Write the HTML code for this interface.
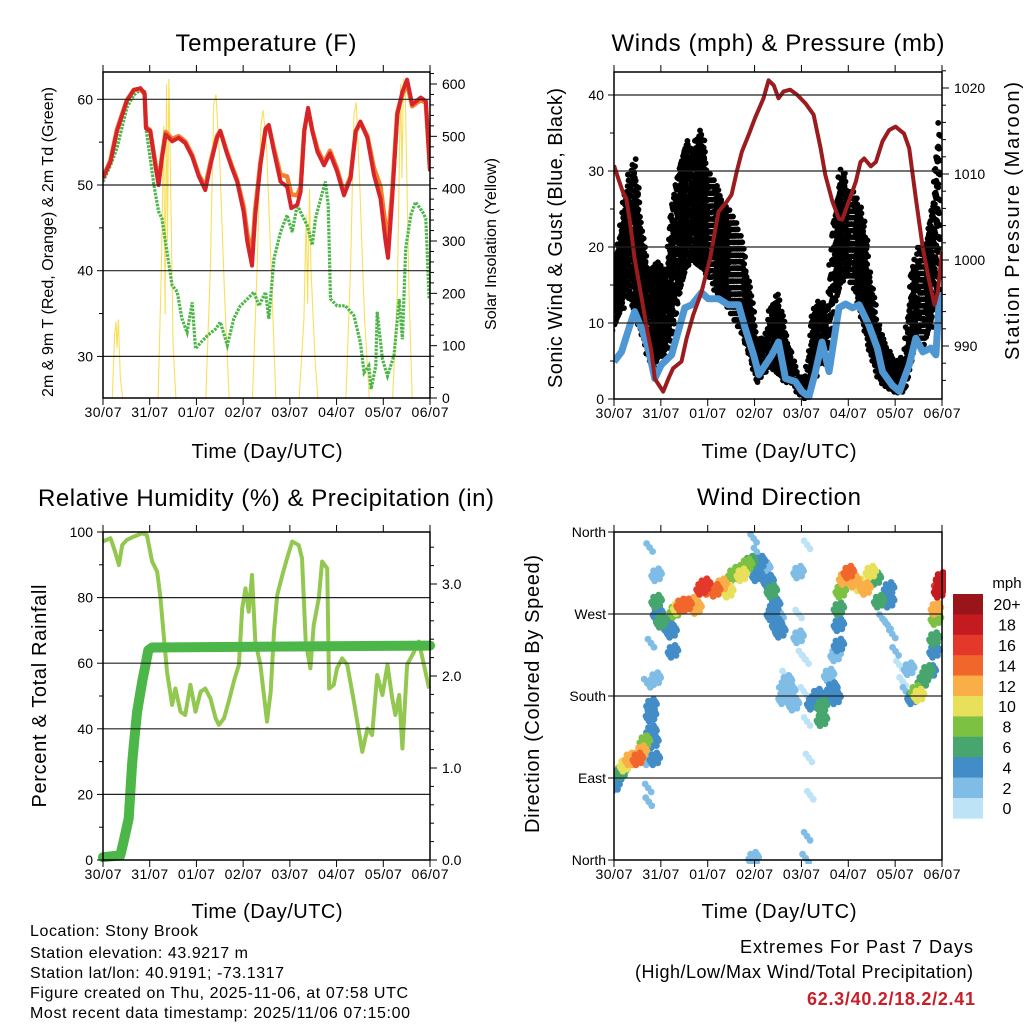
<!DOCTYPE html>
<html><head><meta charset="utf-8"><style>
html,body{margin:0;padding:0;background:#fff;}
svg{display:block;font-family:"Liberation Sans",Arial,sans-serif;}
</style></head><body>
<svg id="chart" width="1024" height="1024" viewBox="0 0 1024 1024">
<rect x="0" y="0" width="1024" height="1024" fill="#fff"/>
<g id="layer-data"></g>
<g id="layer-axes"></g>
<g id="layer-text">
<text x="266" y="51" font-size="24" text-anchor="middle" textLength="181">Temperature (F)</text>
<text x="778" y="51" font-size="24" text-anchor="middle" textLength="333">Winds (mph) &amp; Pressure (mb)</text>
<text x="266" y="506" font-size="24" text-anchor="middle" textLength="456">Relative Humidity (%) &amp; Precipitation (in)</text>
<text x="779" y="505" font-size="24" text-anchor="middle" textLength="164">Wind Direction</text>
<text x="267" y="458" font-size="20" text-anchor="middle" textLength="151">Time (Day/UTC)</text>
<text x="779" y="458" font-size="20" text-anchor="middle" textLength="155">Time (Day/UTC)</text>
<text x="267" y="918" font-size="20" text-anchor="middle" textLength="151">Time (Day/UTC)</text>
<text x="779" y="918" font-size="20" text-anchor="middle" textLength="155">Time (Day/UTC)</text>
<text transform="translate(53,242) rotate(-90)" font-size="16" text-anchor="middle" textLength="310">2m &amp; 9m T (Red, Orange) &amp; 2m Td (Green)</text>
<text transform="translate(496,244) rotate(-90)" font-size="16" text-anchor="middle" textLength="172">Solar Insolation (Yellow)</text>
<text transform="translate(562,238) rotate(-90)" font-size="20" text-anchor="middle" textLength="300">Sonic Wind &amp; Gust (Blue, Black)</text>
<text transform="translate(1019,221) rotate(-90)" font-size="20" text-anchor="middle" textLength="278">Station Pressure (Maroon)</text>
<text transform="translate(46,696) rotate(-90)" font-size="20" text-anchor="middle" textLength="223">Percent &amp; Total Rainfall</text>
<text transform="translate(539,694) rotate(-90)" font-size="20" text-anchor="middle" textLength="278">Direction (Colored By Speed)</text>
<text x="1007" y="588" font-size="15" text-anchor="middle">mph</text>
<text x="30" y="936" font-size="16" textLength="168">Location: Stony Brook</text>
<text x="30" y="958" font-size="16" textLength="218">Station elevation: 43.9217 m</text>
<text x="30" y="978" font-size="16" textLength="254">Station lat/lon: 40.9191; -73.1317</text>
<text x="30" y="998" font-size="16" textLength="378">Figure created on Thu, 2025-11-06, at 07:58 UTC</text>
<text x="30" y="1018" font-size="16" textLength="380">Most recent data timestamp: 2025/11/06 07:15:00</text>
<text x="973" y="953" font-size="18" text-anchor="end" textLength="233">Extremes For Past 7 Days</text>
<text x="973" y="978" font-size="18" text-anchor="end" textLength="338">(High/Low/Max Wind/Total Precipitation)</text>
<text x="975" y="1005" font-size="18" font-weight="bold" fill="#c8202a" text-anchor="end" textLength="168">62.3/40.2/18.2/2.41</text>
</g>
</svg>
<script>
// ---------- data ----------
const dayLabels = ["30/07","31/07","01/07","02/07","03/07","04/07","05/07","06/07"];
const tempTicks = [30,40,50,60];
const solarTicks = [0,100,200,300,400,500,600];
const windTicks = [0,10,20,30,40];
const pressTicks = [990,1000,1010,1020];
const rhTicks = [0,20,40,60,80,100];
const rainTicks = [0,1,2,3];
const rainTickLabels = ["0.0","1.0","2.0","3.0"];
const dirTicks = [0,90,180,270,360];
const dirTickLabels = ["North","East","South","West","North"];
const speedBinLabels = ["0","2","4","6","8","10","12","14","16","18","20+"];
const speedColors = ["#bde3f7","#7fbde6","#428dc8","#47a66e","#7cc142","#e8e05a","#f9ae48","#f1662b","#e4382b","#c41b21","#9a151a"];

const tempDays = [0,.16,.30,.51,.66,.80,.89,.92,1.01,1.12,1.19,1.26,1.34,1.48,1.62,1.76,1.91,2.05,2.19,2.30,2.44,2.51,2.64,2.76,2.87,3.01,3.09,3.19,3.26,3.37,3.48,3.55,3.66,3.80,3.94,4.03,4.16,4.23,4.31,4.39,4.48,4.59,4.73,4.86,5.01,5.16,5.30,5.41,5.51,5.66,5.80,5.94,6.05,6.10,6.19,6.30,6.41,6.51,6.62,6.80,6.91,7.0];
const temp2m = [50.8,52.7,56.3,59.8,61.1,61.3,60.7,56.6,56.3,52.3,50.0,53.1,55.9,55.1,55.5,54.9,53.3,51.0,49.4,52.3,55.5,56.3,53.9,52.0,50.4,46.9,43.4,40.6,46.5,52.3,56.6,57.0,53.9,50.4,49.8,47.3,47.7,49.2,56.3,59.0,56.3,53.9,52.3,53.7,51.6,48.8,50.8,56.3,57.4,55.5,51.2,48.4,43.4,41.5,48.4,58.2,60.9,62.3,59.4,60.2,59.8,51.6];
const temp9m = [50.9,52.9,56.5,59.9,61.1,61.2,60.6,56.8,56.4,52.6,50.3,53.3,56.2,55.4,55.7,55.1,53.5,51.2,49.8,52.6,55.7,56.3,54.1,52.2,50.6,47.5,44.3,42.0,47.2,52.6,56.5,56.9,54.2,51.2,51.0,48.9,48.8,49.8,56.4,58.8,56.4,54.2,52.6,54.0,51.9,49.1,51.0,56.2,57.3,55.7,52.0,49.8,45.2,43.5,49.2,58.5,60.6,61.8,59.2,59.9,59.6,51.9];
const dewDays = [0,.16,.30,.51,.66,.80,.89,.92,1.01,1.09,1.19,1.26,1.37,1.48,1.59,1.69,1.80,1.91,1.98,2.09,2.23,2.41,2.51,2.66,2.80,2.94,3.09,3.23,3.34,3.48,3.55,3.66,3.80,3.94,4.05,4.16,4.26,4.37,4.48,4.55,4.66,4.76,4.82,4.87,5.01,5.19,5.37,5.51,5.59,5.69,5.74,5.84,5.87,5.98,6.09,6.23,6.34,6.41,6.48,6.59,6.69,6.84,6.91,6.98];
const dewVals = [50.4,52.3,54.3,59.0,60.5,61.1,60.9,56.6,53.1,50.0,46.9,46.1,42.2,38.3,37.5,34.4,32.8,36.3,30.9,31.6,32.4,33.2,34.0,31.3,34.4,35.9,36.7,37.5,35.9,37.5,34.4,41.4,44.5,46.5,44.5,47.7,46.5,45.3,43.0,46.1,48.4,50.4,47.7,36.7,35.9,35.9,34.8,31.6,28.1,28.9,26.2,28.9,35.2,29.7,27.7,30.1,36.7,32.0,42.6,46.5,48.0,46.9,46.1,36.7];
const solarDays = [0,.2,.25,.28,.3,.33,.37,.42,1.18,1.25,1.3,1.33,1.36,1.38,1.41,1.45,1.5,1.56,2.2,2.3,2.37,2.42,2.5,2.6,2.7,3.2,3.3,3.38,3.43,3.5,3.6,3.7,4.2,4.3,4.35,4.38,4.42,4.45,4.5,4.55,4.6,5.2,5.3,5.37,5.42,5.5,5.6,5.7,6.2,6.3,6.37,6.4,6.43,6.47,6.55,6.62,7.0];
const solarVals = [0,0,125,145,95,150,40,0,0,250,520,160,600,300,610,400,100,0,0,250,560,580,450,200,0,0,250,520,550,480,250,0,0,150,350,180,400,250,150,60,0,0,250,540,565,400,150,0,0,200,600,420,610,590,200,0,0];

const pressDays = [0,.09,.19,.26,.34,.44,.59,.69,.80,.87,1.05,1.16,1.26,1.44,1.55,1.69,1.87,2.05,2.23,2.41,2.51,2.62,2.73,2.87,3.01,3.19,3.30,3.41,3.51,3.62,3.76,3.91,4.09,4.26,4.41,4.51,4.66,4.80,4.87,5.01,5.16,5.26,5.34,5.48,5.59,5.73,5.87,6.01,6.19,6.30,6.44,6.59,6.73,6.84,6.91,7.0];
const pressVals = [1011.0,1009.5,1007.9,1007.2,1004.5,1000.2,995.6,992.4,989.3,986.2,984.7,986.2,987.4,988.2,990.9,993.6,996.3,1000.2,1005.6,1006.8,1007.6,1010.3,1012.6,1014.5,1016.5,1018.8,1020.9,1020.3,1018.8,1019.6,1019.8,1019.2,1018.2,1016.9,1013.0,1009.9,1006.8,1004.8,1004.7,1006.8,1009.1,1011.4,1011.8,1010.9,1011.4,1013.8,1015.1,1015.5,1014.7,1013.0,1007.2,1001.4,997.5,994.8,996.3,1001.0];
const windDays = [0,.16,.34,.44,.59,.73,.87,1.01,1.23,1.37,1.51,1.66,1.87,2.01,2.23,2.44,2.66,2.80,2.98,3.09,3.37,3.51,3.66,3.87,4.01,4.16,4.30,4.44,4.59,4.80,4.94,5.09,5.23,5.44,5.62,5.73,5.94,6.09,6.30,6.44,6.59,6.76,6.87,6.94,7.0];
const windVals = [4.9,6.2,9.7,11.5,9.3,6.7,2.7,4.5,5.8,8.9,12.0,12.4,14.0,13.2,13.2,12.4,12.4,9.3,5.8,3.2,5.8,7.5,2.7,2.3,1.0,0.3,3.6,7.5,3.6,12.0,12.5,12.0,12.4,9.7,6.7,3.6,1.8,1.0,4.5,8.0,6.2,6.7,5.8,13.0,14.0];
const gustDays = [0,.15,.25,.45,.6,.75,.9,1.0,1.1,1.25,1.4,1.55,1.7,1.85,2.0,2.15,2.3,2.45,2.6,2.75,2.9,3.05,3.2,3.35,3.5,3.65,3.8,3.95,4.1,4.25,4.4,4.55,4.7,4.85,5.0,5.15,5.3,5.45,5.6,5.75,5.9,6.05,6.2,6.35,6.5,6.65,6.8,6.95];
const gustLo = [9,11,14,11,8,5,4,6,5,9,14,17,18,17,16,14,13,12,10,8,5,2,3,4,3,2,2,0.5,0,2,5,4,12,15,16,14,10,6,3,2,1,0.5,1,5,9,7,10,15];
const gustHi = [18,23,28,32,22,17,18,18,16,27,31,34,33,36,30,29,26,25,24,20,15,8,8,12,14,9,6,3,3,12,13,12,24,31,28,27,25,17,11,8,6,5,6,17,20,20,26,38];

const rhDays = [0,.16,.26,.34,.41,.51,.66,.84,.94,1.05,1.16,1.23,1.30,1.37,1.48,1.55,1.66,1.76,1.87,1.98,2.09,2.19,2.30,2.41,2.48,2.59,2.69,2.80,2.91,2.98,3.05,3.12,3.19,3.26,3.37,3.51,3.59,3.66,3.73,3.84,3.94,4.05,4.19,4.26,4.34,4.44,4.51,4.62,4.69,4.80,4.84,4.94,5.01,5.12,5.23,5.37,5.55,5.66,5.76,5.87,5.98,6.09,6.19,6.26,6.34,6.41,6.51,6.66,6.76,6.87,6.98];
const rhVals = [97.1,98.1,94.0,89.9,96.0,97.6,98.6,99.6,99.1,91.0,87.9,79.8,68.6,57.4,47.3,52.3,45.2,44.2,53.4,45.2,51.3,52.3,49.3,43.2,41.2,43.2,48.3,54.4,59.5,76.7,82.8,75.7,86.9,66.6,59.5,42.2,51.3,69.6,80.8,86.9,92.0,97.1,96.0,92.0,66.6,58.4,71.6,79.8,91.0,88.9,52.3,53.4,58.4,61.5,59.5,48.3,33.0,40.1,38.1,56.4,50.3,59.5,49.3,44.2,50.3,34.0,59.5,63.5,66.6,59.5,52.3];
const rainDays = [0,.37,.44,.55,.62,.66,.73,.84,.91,.97,1.05,7.0];
const rainVals = [0.03,0.05,0.2,0.45,1.03,1.25,1.61,1.94,2.12,2.28,2.31,2.33];

const dirDays = [.01,.09,.16,.23,.34,.44,.51,.59,.66,.73,.73,.74,.79,.80,.84,.87,.80,.71,.76,.89,.91,.91,.94,1.01,1.12,1.23,1.26,.79,1.30,1.37,1.44,1.55,1.66,1.76,1.87,1.94,2.01,2.16,2.30,2.44,2.55,2.66,2.73,2.84,2.91,2.98,3.05,3.12,3.23,3.30,3.37,3.44,3.51,3.55,2.98,3.05,3.37,3.48,3.66,3.59,3.73,3.87,3.94,3.94,3.94,4.01,4.05,4.09,4.12,4.12,4.16,4.19,4.12,4.09,4.23,4.34,4.44,4.44,4.51,4.59,4.66,4.73,4.73,4.80,4.80,4.84,4.80,4.91,5.01,5.12,5.23,5.37,5.48,5.59,5.66,5.73,5.87,5.87,5.84,5.94,6.01,6.09,6.16,6.23,6.30,6.37,6.44,6.51,6.59,6.69,6.76,6.84,6.84,6.87,6.87,6.94,6.98,6.94,3.62,3.76,3.84,3.69];
const dirVals = [82,93,97,104,111,111,111,119,130,111,79,64,159,141,130,111,170,194,343,199,313,284,270,262,259,251,229,238,273,277,280,280,282,277,298,302,298,296,302,295,313,317,313,324,327,353,338,327,320,306,295,280,265,251,2,313,270,258,203,185,178,178,316,270,245,225,185,220,346,152,112,71,26,2,172,181,169,154,178,203,188,178,225,258,276,295,236,309,316,306,302,298,316,309,284,265,298,284,258,248,229,214,196,185,210,178,185,181,196,207,207,229,243,265,276,302,309,295,178,185,171,196];
const dirSpeed = [4,5,7,10,12,13,14,12,8,3,2,2,5,4,5,4,4,2,2,3,3,6,4,6,5,4,4,2,8,10,14,15,13,12,16,17,15,14,12,10,9,8,10,8,7,2,2,4,3,4,6,4,3,4,3,4,5,4,1,2,2,1,3,1,3,1,1,1,1,1,1,1,2,2,4,4,7,6,4,3,4,4,3,4,7,8,4,13,14,13,11,12,10,6,6,2,4,4,2,2,2,1,1,2,3,5,8,10,6,6,5,4,6,8,12,16,19,18,3,3,3,3];

// ---------- helpers ----------
const NS = "http://www.w3.org/2000/svg";
const dataLayer = document.getElementById("layer-data");
const axesLayer = document.getElementById("layer-axes");
function mk(tag, attrs, parent){const e=document.createElementNS(NS,tag);for(const k in attrs)e.setAttribute(k,attrs[k]);(parent||dataLayer).appendChild(e);return e;}
function lin(d0,d1,r0,r1){return v=>r0+(v-d0)*(r1-r0)/(d1-d0);}
function pathFrom(xs,ys,fx,fy){let d="";for(let i=0;i<xs.length;i++)d+=(i?"L":"M")+fx(xs[i]).toFixed(1)+","+fy(ys[i]).toFixed(1);return d;}
function interp(xs,ys,x){if(x<=xs[0])return ys[0];for(let i=1;i<xs.length;i++){if(x<=xs[i]){const t=(x-xs[i-1])/(xs[i]-xs[i-1]);return ys[i-1]+t*(ys[i]-ys[i-1]);}}return ys[ys.length-1];}

const P1={x0:103,x1:430,y0:72,y1:398};
const P2={x0:614,x1:942,y0:72,y1:399};
const P3={x0:103,x1:430,y0:532,y1:860};
const P4={x0:614,x1:942,y0:532,y1:860};

function drawFrame(P,name,leftTicks,leftLabels,fyL,rightTicks,rightLabels,fyR,rightMinor,fyRm,leftMinor,fyLm){
  const g=mk("g",{},axesLayer);
  
  
  leftTicks.forEach((t,i)=>{
    const y=fyL(t);
    if(y>P.y0+1 && y<P.y1-1){
      const l=mk("line",{x1:P.x0,x2:P.x1,y1:y,y2:y,stroke:"#222","stroke-width":1.2},g);
      
      
    }
    mk("line",{x1:P.x0-6,x2:P.x0,y1:y,y2:y,stroke:"#000","stroke-width":1},g);
    const tx=mk("text",{x:P.x0-(leftLabels[i].length>3?8:10),y:y+5,"font-size":14,"text-anchor":"end"},g);
    tx.textContent=leftLabels[i];
    
    
  });
  if(leftMinor) leftMinor.forEach(t=>{const y=fyLm(t);mk("line",{x1:P.x0-4,x2:P.x0,y1:y,y2:y,stroke:"#000","stroke-width":1},g);});
  if(rightTicks){
    rightTicks.forEach((t,i)=>{
      const y=fyR(t);
      mk("line",{x1:P.x1,x2:P.x1+7,y1:y,y2:y,stroke:"#000","stroke-width":1},g);
      const tx=mk("text",{x:P.x1+12,y:y+5,"font-size":14},g);
      tx.textContent=rightLabels[i];
      
      
    });
    if(rightMinor) rightMinor.forEach(t=>{const y=fyRm(t);mk("line",{x1:P.x1,x2:P.x1+4,y1:y,y2:y,stroke:"#000","stroke-width":1},g);});
  }
  const fx=lin(0,7,P.x0,P.x1);
  dayLabels.forEach((lab,i)=>{
    const x=fx(i);
    mk("line",{x1:x,x2:x,y1:P.y1,y2:P.y1+7,stroke:"#000","stroke-width":1},g);
    mk("line",{x1:x,x2:x,y1:P.y0-7,y2:P.y0,stroke:"#000","stroke-width":1},g);
    const tx=mk("text",{x:x,y:P.y1+19,"font-size":14,"text-anchor":"middle",textLength:37},g);
    tx.textContent=lab;
    
    
  });
  const r=mk("rect",{x:P.x0,y:P.y0,width:P.x1-P.x0,height:P.y1-P.y0,fill:"none",stroke:"#000","stroke-width":1.5},g);
  
  
}

// ---------- Panel 1 ----------
{
  const fx=lin(0,7,P1.x0,P1.x1);
  const fyT=lin(50,60,185,99.3);
  const fyS=lin(0,600,398,84);
  const cp=mk("clipPath",{id:"clip1"});
  mk("rect",{x:P1.x0,y:P1.y0,width:P1.x1-P1.x0,height:P1.y1-P1.y0},cp);
  const g=mk("g",{"clip-path":"url(#clip1)"});
  
  
  const s=mk("path",{d:pathFrom(solarDays,solarVals,fx,fyS),fill:"none",stroke:"#f8df5c","stroke-width":1.1},g);
  
  
  const dw=mk("path",{d:pathFrom(dewDays,dewVals,fx,fyT),fill:"none",stroke:"#4cb648","stroke-width":3.2,"stroke-dasharray":"2.5 1.2"},g);
  
  
  const t9=mk("path",{d:pathFrom(tempDays,temp9m,fx,fyT),fill:"none",stroke:"#f47f2b","stroke-width":4.5,"stroke-linejoin":"round"},g);
  
  
  const t2=mk("path",{d:pathFrom(tempDays,temp2m,fx,fyT),fill:"none",stroke:"#d7242a","stroke-width":4,"stroke-linejoin":"round"},g);
  
  
  const minorS=[];for(let v=20;v<=620;v+=20)if(v%100)minorS.push(v);
  drawFrame(P1,"temperature",tempTicks,tempTicks.map(String),fyT,solarTicks,solarTicks.map(String),fyS,minorS,fyS,[35,45,55],fyT);
}

// ---------- Panel 2 ----------
{
  const fx=lin(0,7,P2.x0,P2.x1);
  const fyW=lin(0,40,399,95);
  const fyP=lin(1000,1010,260,174);
  const cp=mk("clipPath",{id:"clip2"});
  mk("rect",{x:P2.x0,y:P2.y0-2,width:P2.x1-P2.x0,height:P2.y1-P2.y0+4},cp);
  const g=mk("g",{"clip-path":"url(#clip2)"});
  
  
  const gg=mk("g",{fill:"#000"},g);
  
  
  const SUB=10;
  for(let i=0;i<gustDays.length-1;i++){
    for(let k=0;k<SUB;k++){
      const t=gustDays[i]+(gustDays[i+1]-gustDays[i])*k/SUB;
      const lo=interp(gustDays,gustLo,t), hi=interp(gustDays,gustHi,t);
      const phase=((i*SUB+k)*0.618)%1;
      let j=0;
      for(let v=lo+phase*1.7;v<=hi;v+=1.7,j++){
        const c=mk("circle",{cx:(fx(t)+(((j*7+k*3)%5)-2)*0.8).toFixed(1),cy:fyW(v).toFixed(1),r:2.9},gg);
        
      }
    }
  }
  const w=mk("path",{d:pathFrom(windDays,windVals,fx,fyW),fill:"none",stroke:"#4f97d3","stroke-width":7,"stroke-linejoin":"round"},g);
  
  
  const p=mk("path",{d:pathFrom(pressDays,pressVals,fx,fyP),fill:"none",stroke:"#9b1c1f","stroke-width":4,"stroke-linejoin":"round"},g);
  
  
  const minorP=[];for(let v=986;v<=1022;v+=2)if(v%10)minorP.push(v);
  drawFrame(P2,"winds",windTicks,windTicks.map(String),fyW,pressTicks,pressTicks.map(String),fyP,minorP,fyP,[5,15,25,35],fyW);
}

// ---------- Panel 3 ----------
{
  const fx=lin(0,7,P3.x0,P3.x1);
  const fyH=lin(0,100,860,532);
  const fyR=lin(0,1,860,768);
  const cp=mk("clipPath",{id:"clip3"});
  mk("rect",{x:P3.x0-6,y:P3.y0,width:P3.x1-P3.x0+12,height:P3.y1-P3.y0+6},cp);
  const g=mk("g",{"clip-path":"url(#clip3)"});
  
  
  const h=mk("path",{d:pathFrom(rhDays,rhVals,fx,fyH),fill:"none",stroke:"#92c84f","stroke-width":4,"stroke-linejoin":"round"},g);
  
  
  const r=mk("path",{d:pathFrom(rainDays,rainVals,fx,fyR),fill:"none",stroke:"#4cb648","stroke-width":10,"stroke-linejoin":"round","stroke-linecap":"round"},g);
  
  
  const minorR=[];for(let v=0.2;v<3.6;v+=0.2)minorR.push(v);
  drawFrame(P3,"humidity",rhTicks,rhTicks.map(String),fyH,rainTicks,rainTickLabels,fyR,minorR,fyR,[10,30,50,70,90],fyH);
}

// ---------- Panel 4 ----------
{
  const fx=lin(0,7,P4.x0,P4.x1);
  const fyD=lin(0,360,860,532);
  const cp=mk("clipPath",{id:"clip4"});
  mk("rect",{x:P4.x0,y:P4.y0-4,width:P4.x1-P4.x0+4,height:P4.y1-P4.y0+8},cp);
  const g=mk("g",{"clip-path":"url(#clip4)"});
  
  
  const offs=[[0,0],[-3,-4],[3,4],[2,-6],[-2,6],[-5,1],[5,-1],[4,-3],[-4,3]];
  const order=dirDays.map((d,i)=>i).sort((a,b)=>dirSpeed[a]-dirSpeed[b]);
  order.forEach(i=>{
    const bin=Math.min(10,Math.floor(dirSpeed[i]/2));
    const cx=fx(dirDays[i]), cy=fyD(dirVals[i]);
    const n=dirSpeed[i]>=3?9:3;
    for(let k=0;k<n;k++){
      const c=mk("circle",{cx:(cx+offs[k][0]).toFixed(1),cy:(cy+offs[k][1]).toFixed(1),r:3.4,fill:speedColors[bin]},g);
      
    }
  });
  drawFrame(P4,"direction",dirTicks,dirTickLabels,fyD,null,null,null,null,null,null,null);
  const cb=mk("g",{},axesLayer);
  
  
  const n=speedColors.length, top=594, h=20.4;
  for(let i=0;i<n;i++){
    const idx=n-1-i;
    const r=mk("rect",{x:953,y:(top+i*h).toFixed(1),width:30,height:h+0.3,fill:speedColors[idx]},cb);
    
    
    const t=mk("text",{x:1007,y:(top+i*h+h/2+6).toFixed(1),"font-size":16,"text-anchor":"middle"},cb);
    t.textContent=speedBinLabels[idx];
    
    
  }
}
</script>
</body></html>
